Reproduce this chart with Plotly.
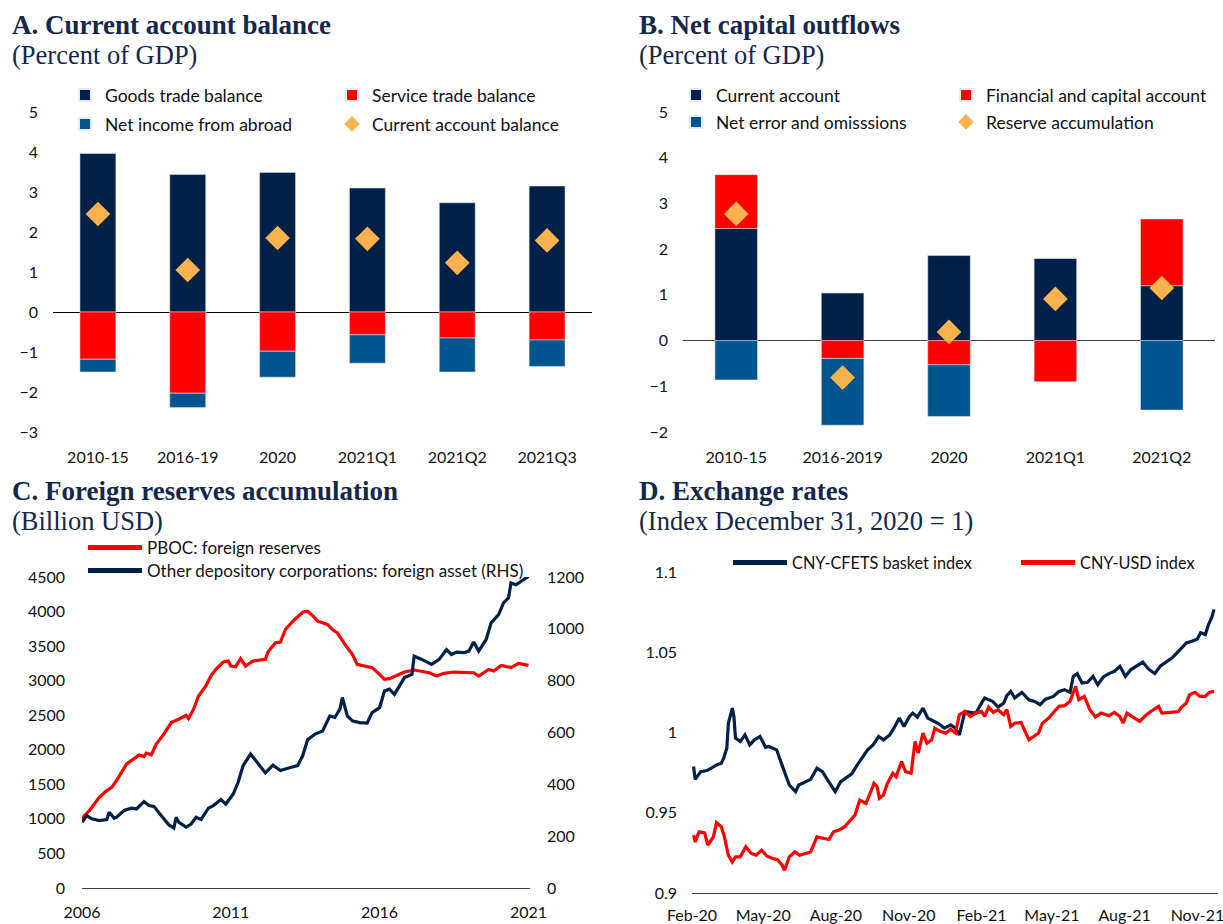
import plotly.graph_objects as go

W, H = 1223, 924

def fx(p):
    return p / W

def fy(p):
    return 1 - p / H

NAVY = "#002147"
RED = "#FF0000"
BLUE = "#00558F"
ORANGE = "#F9B24E"
TITLE = "#14284B"
TICKFONT = dict(family="Lato", size=16, color="#111111")

# ---------------- Panel A ----------------
cats_a = ["2010-15", "2016-19", "2020", "2021Q1", "2021Q2", "2021Q3"]
goods = [3.96, 3.44, 3.49, 3.10, 2.73, 3.15]
service = [-1.18, -2.03, -0.98, -0.57, -0.65, -0.70]
income = [-0.32, -0.36, -0.65, -0.71, -0.85, -0.66]
ca_bal = [2.45, 1.05, 1.85, 1.83, 1.23, 1.79]

# ---------------- Panel B ----------------
cats_b = ["2010-15", "2016-2019", "2020", "2021Q1", "2021Q2"]
cur_acc = [2.45, 1.04, 1.86, 1.80, 1.20]
fin_cap = [1.18, -0.39, -0.53, -0.90, 1.46]
neo = [-0.86, -1.46, -1.13, 0.0, -1.52]
reserve = [2.77, -0.81, 0.19, 0.91, 1.15]

# ---------------- Panel C ----------------
pboc_dates = ["2006-01", "2006-04", "2006-08", "2006-11", "2007-01", "2007-03", "2007-07", "2007-10",
              "2007-12", "2008-02", "2008-03", "2008-05", "2008-07", "2008-10", "2009-01", "2009-04",
              "2009-07", "2009-08", "2009-10", "2009-12", "2010-03", "2010-05", "2010-07", "2010-10",
              "2010-12", "2011-01", "2011-03", "2011-05", "2011-07", "2011-10", "2012-03", "2012-04",
              "2012-07", "2012-09", "2012-11", "2013-02", "2013-06", "2013-08", "2013-10", "2013-12",
              "2014-04", "2014-06", "2014-08", "2014-11", "2015-02", "2015-04", "2015-07", "2015-10",
              "2016-01", "2016-03", "2016-05", "2016-08", "2016-11", "2017-03", "2017-06", "2017-09",
              "2017-12", "2018-03", "2018-07", "2018-11", "2019-03", "2019-05", "2019-09", "2019-11",
              "2020-02", "2020-06", "2020-09", "2020-11", "2021-01"]
pboc_vals = [1010, 1120, 1313, 1409, 1457, 1553, 1793, 1865,
             1923, 1904, 1952, 1928, 2082, 2226, 2394, 2442,
             2500, 2452, 2587, 2779, 2923, 3067, 3163, 3269,
             3284, 3212, 3202, 3317, 3212, 3284, 3308, 3413,
             3548, 3558, 3740, 3861, 3990, 4005, 3942, 3861,
             3813, 3740, 3692, 3524, 3380, 3236, 3212, 3188,
             3091, 3019, 3029, 3077, 3125, 3154, 3139, 3115,
             3067, 3106, 3125, 3115, 3115, 3067, 3163, 3139,
             3221, 3188, 3250, 3236, 3221]

odc_dates = ["2006-01", "2006-03", "2006-05", "2006-08", "2006-11", "2006-12", "2007-02", "2007-03",
             "2007-06", "2007-09", "2007-11", "2008-02", "2008-04", "2008-06", "2008-09", "2008-12",
             "2009-02", "2009-03", "2009-04", "2009-07", "2009-09", "2009-11", "2010-01", "2010-04",
             "2010-06", "2010-09", "2010-11", "2011-02", "2011-04", "2011-06", "2011-09", "2011-11",
             "2012-03", "2012-06", "2012-09", "2013-01", "2013-04", "2013-06", "2013-08", "2013-11",
             "2014-02", "2014-05", "2014-07", "2014-09", "2014-10", "2014-12", "2015-02", "2015-05",
             "2015-08", "2015-10", "2016-01", "2016-03", "2016-05", "2016-07", "2016-09", "2016-11",
             "2017-02", "2017-03", "2017-06", "2017-10", "2018-01", "2018-04", "2018-06", "2018-08",
             "2018-11", "2019-01", "2019-03", "2019-05", "2019-08", "2019-10", "2020-01", "2020-03",
             "2020-05", "2020-06", "2020-08", "2020-10", "2021-01"]
odc_vals = [254, 279, 267, 260, 264, 292, 269, 273,
            299, 308, 305, 333, 318, 315, 279, 244,
            231, 273, 254, 235, 247, 273, 264, 308,
            318, 341, 324, 363, 408, 472, 517, 491,
            444, 474, 453, 465, 472, 510, 572, 594,
            606, 664, 658, 690, 735, 664, 645, 638,
            636, 677, 696, 760, 767, 747, 779, 812,
            824, 895, 882, 863, 882, 920, 901, 910,
            908, 914, 949, 914, 959, 1023, 1055, 1100,
            1119, 1177, 1170, 1183, 1202]
c_tickvals = ["2006-01-01", "2011-01-01", "2016-01-01", "2021-01-01"]
c_ticktext = ["2006", "2011", "2016", "2021"]

# ---------------- Panel D ----------------
cfets_dates = ["2020-02-03", "2020-02-05", "2020-02-12", "2020-02-20", "2020-02-27", "2020-03-03",
               "2020-03-09", "2020-03-12", "2020-03-16", "2020-03-18", "2020-03-23", "2020-03-25",
               "2020-03-27", "2020-04-02", "2020-04-08", "2020-04-14", "2020-04-20", "2020-04-27",
               "2020-05-04", "2020-05-08", "2020-05-18", "2020-05-22", "2020-05-27", "2020-06-03",
               "2020-06-11", "2020-06-15", "2020-06-23", "2020-06-30", "2020-07-08", "2020-07-15",
               "2020-07-20", "2020-07-27", "2020-07-31", "2020-08-07", "2020-08-14", "2020-08-21",
               "2020-08-28", "2020-09-04", "2020-09-10", "2020-09-17", "2020-09-24", "2020-09-30",
               "2020-10-08", "2020-10-14", "2020-10-20", "2020-10-26", "2020-11-02", "2020-11-06",
               "2020-11-12", "2020-11-19", "2020-11-25", "2020-12-01", "2020-12-09", "2020-12-16",
               "2020-12-24", "2020-12-30", "2021-01-04", "2021-01-11", "2021-01-18", "2021-01-25",
               "2021-02-01", "2021-02-05", "2021-02-15", "2021-02-22", "2021-03-01", "2021-03-05",
               "2021-03-10", "2021-03-15", "2021-03-24", "2021-04-02", "2021-04-09", "2021-04-16",
               "2021-04-23", "2021-05-03", "2021-05-10", "2021-05-17", "2021-05-24", "2021-05-28",
               "2021-06-02", "2021-06-08", "2021-06-15", "2021-06-22", "2021-06-28", "2021-07-05",
               "2021-07-12", "2021-07-19", "2021-07-26", "2021-08-02", "2021-08-09", "2021-08-16",
               "2021-08-24", "2021-08-31", "2021-09-08", "2021-09-15", "2021-09-23", "2021-09-30",
               "2021-10-08", "2021-10-12", "2021-10-18", "2021-10-25", "2021-11-01", "2021-11-05",
               "2021-11-11", "2021-11-15", "2021-11-19", "2021-11-22"]
cfets_vals = [0.9788, 0.9708, 0.9756, 0.9763, 0.9783, 0.9798,
              0.9808, 0.9840, 0.9902, 1.0058, 1.0152, 1.0100,
              0.9965, 0.9944, 0.9985, 0.9923, 0.9954, 0.9975,
              0.9908, 0.9913, 0.9892, 0.9829, 0.9767, 0.9673,
              0.9631, 0.9673, 0.9694, 0.9708, 0.9777, 0.9756,
              0.9715, 0.9663, 0.9631, 0.9694, 0.9721, 0.9742,
              0.9798, 0.9850, 0.9892, 0.9923, 0.9975, 0.9954,
              0.9985, 1.0033, 1.0090, 1.0038, 1.0100, 1.0121,
              1.0096, 1.0152, 1.0090, 1.0075, 1.0054, 1.0027,
              1.0048, 1.0027, 0.9985, 1.0131, 1.0125, 1.0121,
              1.0183, 1.0215, 1.0194, 1.0158, 1.0183, 1.0229,
              1.0256, 1.0215, 1.0250, 1.0204, 1.0194, 1.0173,
              1.0208, 1.0225, 1.0256, 1.0267, 1.0250, 1.0350,
              1.0367, 1.0308, 1.0313, 1.0350, 1.0298, 1.0346,
              1.0367, 1.0381, 1.0413, 1.0350, 1.0392, 1.0413,
              1.0438, 1.0396, 1.0367, 1.0413, 1.0438, 1.0465,
              1.0506, 1.0527, 1.0558, 1.0569, 1.0583, 1.0621,
              1.0610, 1.0673, 1.0715, 1.0767]

usd_dates = ["2020-02-03", "2020-02-05", "2020-02-10", "2020-02-17", "2020-02-21", "2020-02-28",
             "2020-03-03", "2020-03-09", "2020-03-13", "2020-03-18", "2020-03-23", "2020-03-27",
             "2020-04-02", "2020-04-09", "2020-04-16", "2020-04-22", "2020-04-29", "2020-05-06",
             "2020-05-13", "2020-05-19", "2020-05-25", "2020-05-28", "2020-06-03", "2020-06-10",
             "2020-06-16", "2020-06-24", "2020-06-30", "2020-07-08", "2020-07-15", "2020-07-23",
             "2020-07-29", "2020-08-05", "2020-08-12", "2020-08-18", "2020-08-25", "2020-08-31",
             "2020-09-08", "2020-09-14", "2020-09-18", "2020-09-22", "2020-09-25", "2020-09-30",
             "2020-10-05", "2020-10-12", "2020-10-16", "2020-10-23", "2020-10-28", "2020-11-04",
             "2020-11-09", "2020-11-13", "2020-11-19", "2020-11-24", "2020-11-30", "2020-12-04",
             "2020-12-11", "2020-12-18", "2020-12-24", "2020-12-30", "2021-01-04", "2021-01-11",
             "2021-01-18", "2021-01-25", "2021-02-01", "2021-02-05", "2021-02-10", "2021-02-16",
             "2021-02-22", "2021-03-01", "2021-03-05", "2021-03-10", "2021-03-15", "2021-03-23",
             "2021-03-29", "2021-04-02", "2021-04-08", "2021-04-14", "2021-04-19", "2021-04-27",
             "2021-05-03", "2021-05-10", "2021-05-17", "2021-05-24", "2021-05-31", "2021-06-04",
             "2021-06-11", "2021-06-18", "2021-06-25", "2021-07-02", "2021-07-12", "2021-07-19",
             "2021-07-26", "2021-07-30", "2021-08-04", "2021-08-11", "2021-08-20", "2021-08-27",
             "2021-09-03", "2021-09-13", "2021-09-17", "2021-09-28", "2021-10-08", "2021-10-12",
             "2021-10-18", "2021-10-22", "2021-10-29", "2021-11-04", "2021-11-11", "2021-11-16",
             "2021-11-22"]
usd_vals = [0.9360, 0.9319, 0.9381, 0.9375, 0.9298, 0.9350,
            0.9438, 0.9413, 0.9350, 0.9235, 0.9194, 0.9225,
            0.9225, 0.9288, 0.9246, 0.9235, 0.9267, 0.9229,
            0.9215, 0.9208, 0.9173, 0.9142, 0.9225, 0.9256,
            0.9235, 0.9246, 0.9256, 0.9350, 0.9340, 0.9333,
            0.9381, 0.9392, 0.9413, 0.9444, 0.9485, 0.9579,
            0.9558, 0.9631, 0.9683, 0.9663, 0.9590, 0.9610,
            0.9683, 0.9746, 0.9725, 0.9819, 0.9756, 0.9746,
            0.9944, 0.9871, 0.9996, 0.9933, 0.9954, 1.0027,
            1.0006, 0.9996, 1.0021, 0.9996, 1.0110, 1.0131,
            1.0100, 1.0121, 1.0131, 1.0100, 1.0158, 1.0125,
            1.0142, 1.0110, 1.0142, 1.0038, 1.0058, 1.0063,
            0.9996, 0.9954, 0.9975, 0.9996, 1.0058, 1.0090,
            1.0125, 1.0163, 1.0167, 1.0194, 1.0288, 1.0204,
            1.0225, 1.0142, 1.0096, 1.0121, 1.0104, 1.0125,
            1.0100, 1.0058, 1.0121, 1.0100, 1.0069, 1.0104,
            1.0131, 1.0163, 1.0121, 1.0125, 1.0131, 1.0158,
            1.0183, 1.0235, 1.0250, 1.0225, 1.0225, 1.0250,
            1.0256]
d_tickvals = ["2020-02-01", "2020-05-01", "2020-08-01", "2020-11-01",
              "2021-02-01", "2021-05-01", "2021-08-01", "2021-11-01"]
d_ticktext = ["Feb-20", "May-20", "Aug-20", "Nov-20", "Feb-21", "May-21", "Aug-21", "Nov-21"]

fig = go.Figure()

# Panel A traces
fig.add_bar(x=cats_a, y=goods, name="Goods trade balance", marker_color=NAVY,
            xaxis="x", yaxis="y", legend="legend", showlegend=True)
fig.add_bar(x=cats_a, y=service, name="Service trade balance", marker_color=RED,
            xaxis="x", yaxis="y", legend="legend2", showlegend=True)
fig.add_bar(x=cats_a, y=income, name="Net income from abroad", marker_color=BLUE,
            xaxis="x", yaxis="y", legend="legend3", showlegend=True)
fig.add_scatter(x=cats_a, y=ca_bal, mode="markers", name="Current account balance",
                marker=dict(symbol="diamond", size=19, color=ORANGE),
                xaxis="x", yaxis="y", legend="legend4", showlegend=True)

# Panel B traces
fig.add_bar(x=cats_b, y=cur_acc, name="Current account", marker_color=NAVY,
            xaxis="x2", yaxis="y2", legend="legend5", showlegend=True)
fig.add_bar(x=cats_b, y=fin_cap, name="Financial and capital account", marker_color=RED,
            xaxis="x2", yaxis="y2", legend="legend6", showlegend=True)
fig.add_bar(x=cats_b, y=neo, name="Net error and omisssions", marker_color=BLUE,
            xaxis="x2", yaxis="y2", legend="legend7", showlegend=True)
fig.add_scatter(x=cats_b, y=reserve, mode="markers", name="Reserve accumulation",
                marker=dict(symbol="diamond", size=19, color=ORANGE),
                xaxis="x2", yaxis="y2", legend="legend8", showlegend=True)

# Panel C traces
fig.add_scatter(x=pboc_dates, y=pboc_vals, mode="lines", name="PBOC: foreign reserves",
                line=dict(color=RED, width=3.2), xaxis="x3", yaxis="y3", legend="legend9",
                showlegend=True)
fig.add_scatter(x=odc_dates, y=odc_vals, mode="lines",
                name="Other depository corporations: foreign asset (RHS)",
                line=dict(color=NAVY, width=3.2), xaxis="x3", yaxis="y5", legend="legend10",
                showlegend=True)

# Panel D traces
fig.add_scatter(x=cfets_dates, y=cfets_vals, mode="lines", name="CNY-CFETS basket index",
                line=dict(color=NAVY, width=3.2), xaxis="x4", yaxis="y4", legend="legend11",
                showlegend=True)
fig.add_scatter(x=usd_dates, y=usd_vals, mode="lines", name="CNY-USD index",
                line=dict(color=RED, width=3.2), xaxis="x4", yaxis="y4", legend="legend12",
                showlegend=True)

top_dom = [fy(432), fy(112)]
bot_c = [fy(888), fy(577)]
bot_d = [fy(893), fy(572)]

common_y = dict(showgrid=False, tickfont=TICKFONT, ticks="", showline=False, automargin=False)

fig.update_layout(
    width=W, height=H, margin=dict(l=0, r=0, t=0, b=0, autoexpand=False),
    showlegend=True,
    paper_bgcolor="white", plot_bgcolor="white",
    barmode="relative", bargap=0.6,
    font=dict(family="Lato", color="#111111"),
    xaxis=dict(domain=[fx(53), fx(592)], anchor="y", showgrid=False, showline=False, ticks="",
               tickfont=TICKFONT, ticklabelstandoff=14, automargin=False),
    yaxis=dict(domain=top_dom, anchor="x", range=[-3, 5], dtick=1, zeroline=True,
               zerolinecolor="black", zerolinewidth=1.3, ticklabelstandoff=14, **common_y),
    xaxis2=dict(domain=[fx(683), fx(1215)], anchor="y2", showgrid=False, showline=False, ticks="",
                tickfont=TICKFONT, ticklabelstandoff=14, automargin=False),
    yaxis2=dict(domain=top_dom, anchor="x2", range=[-2, 5], dtick=1, zeroline=True,
                zerolinecolor="#404040", zerolinewidth=1.3, ticklabelstandoff=14, **common_y),
    xaxis3=dict(domain=[fx(82), fx(530)], anchor="y3", type="date",
                range=["2006-01-01", "2021-01-20"], tickvals=c_tickvals, ticktext=c_ticktext,
                showgrid=False, showline=True, linecolor="#404040", linewidth=1.3, ticks="",
                tickfont=TICKFONT, ticklabelstandoff=10, automargin=False,
                ticklabeloverflow="allow"),
    yaxis3=dict(domain=bot_c, anchor="x3", range=[0, 4500], dtick=500, zeroline=False,
                ticklabelstandoff=16, **common_y),
    yaxis5=dict(overlaying="y3", side="right", anchor="x3", range=[0, 1200], dtick=200,
                zeroline=False, ticklabelstandoff=16, **common_y),
    xaxis4=dict(domain=[fx(692), fx(1218)], anchor="y4", type="date",
                range=["2020-02-01", "2021-11-27"], tickvals=d_tickvals, ticktext=d_ticktext,
                showgrid=False, showline=True, linecolor="#404040", linewidth=1.3, ticks="",
                tickfont=TICKFONT, ticklabelstandoff=8, automargin=False,
                ticklabeloverflow="allow"),
    yaxis4=dict(domain=bot_d, anchor="x4", range=[0.9, 1.1], dtick=0.05, zeroline=False,
                ticklabelstandoff=14, **common_y),
)

leg_common = dict(orientation="h", xanchor="left", yanchor="middle",
                  bgcolor="rgba(0,0,0,0)", borderwidth=0, visible=True)
# (legend id, text start x px, centre y px, itemwidth, font size)
leg_specs = [
    ("legend", 105, 95, 30, 17.5), ("legend2", 372, 95, 30, 17.5),
    ("legend3", 105, 124, 30, 17.5), ("legend4", 372, 124, 30, 17.5),
    ("legend5", 716, 95, 30, 17.5), ("legend6", 986, 95, 30, 17.5),
    ("legend7", 716, 122, 30, 17.5), ("legend8", 986, 122, 30, 17.5),
    ("legend9", 147, 548, 54, 17), ("legend10", 147, 571, 54, 17),
    ("legend11", 792, 563, 54, 16.3), ("legend12", 1080, 563, 54, 16.3),
]
leg_layout = {}
for lid, tx, ty, iw, fs in leg_specs:
    leg_layout[lid] = dict(x=fx(tx - iw - 10), y=fy(ty), itemwidth=iw,
                           itemsizing="constant",
                           font=dict(family="Lato", size=fs, color="#111111"), **leg_common)
fig.update_layout(**leg_layout)

TITLEFONT_B = dict(family="Liberation Serif", size=27, color=TITLE)
TITLEFONT_R = dict(family="Liberation Serif", size=26.5, color=TITLE)
titles = [
    (10, 25, "<b>A. Current account balance</b>", TITLEFONT_B),
    (10, 55, "(Percent of GDP)", TITLEFONT_R),
    (637, 25, "<b>B. Net capital outflows</b>", TITLEFONT_B),
    (637, 55, "(Percent of GDP)", TITLEFONT_R),
    (10, 491, "<b>C. Foreign reserves accumulation</b>", TITLEFONT_B),
    (10, 521, "(Billion USD)", TITLEFONT_R),
    (637, 491, "<b>D. Exchange rates</b>", TITLEFONT_B),
    (637, 521, "(Index December 31, 2020 = 1)", TITLEFONT_R),
]
for tx, ty, txt, f in titles:
    fig.add_annotation(x=fx(tx), y=fy(ty), xref="paper", yref="paper", text=txt,
                       showarrow=False, xanchor="left", yanchor="middle", font=f)

fig.write_html("out.html", config={"displayModeBar": False},
               post_script="document.body.style.margin='0';document.body.style.overflow='hidden';")
